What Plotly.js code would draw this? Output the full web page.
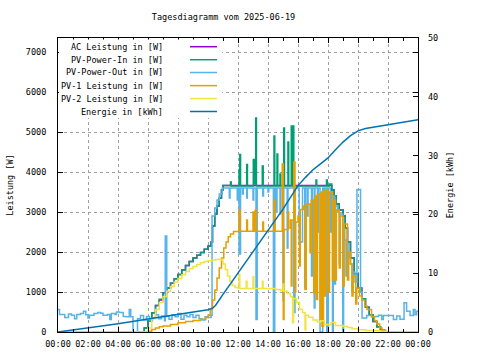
<!DOCTYPE html>
<html><head><meta charset="utf-8">
<script src="https://cdn.plot.ly/plotly-3.0.1.min.js"></script>
<style>html,body{margin:0;padding:0;background:#fff}#chart{width:480px;height:360px}</style>
</head><body><div id="chart"></div>
<script>
// ---------- data ----------
const chartTitle = 'Tagesdiagramm vom 2025-06-19';
const yTitle = 'Leistung [W]';
const y2Title = 'Energie [kWh]';
const xTickVals = [0, 2, 4, 6, 8, 10, 12, 14, 16, 18, 20, 22, 24];
const xTickText = ['00:00','02:00','04:00','06:00','08:00','10:00','12:00','14:00','16:00','18:00','20:00','22:00','00:00'];
const seriesNames = ['AC Leistung in [W]','PV-Power-In in [W]','PV-Power-Out in [W]','PV-1 Leistung in [W]','PV-2 Leistung in [W]','Energie in [kWh]'];

// AC Leistung (hours, W)
const acHours = [0,5.5,5.75,6.0,6.25,6.5,6.75,7.0,7.25,7.5,7.75,8.0,8.25,8.5,8.75,9.0,9.25,9.5,9.75,10.0,10.2,10.3,10.45,10.6,10.75,10.9,11.0,
  18.1,18.25,18.4,18.55,18.75,19.0,19.15,19.3,19.5,19.75,20.0,20.25,20.5,20.75,21.0,21.25,21.5,21.75,24];
const acWatts = [0,0,100,280,480,660,800,980,1100,1220,1330,1440,1550,1660,1760,1850,1920,1990,2070,2150,2250,2650,2950,3150,3350,3550,3660,
  3660,3550,3400,3200,3050,2900,2600,2250,1850,1450,1100,830,620,430,260,130,50,0,0];

// PV-Power-In
const pvInHours = [0,5.5,5.75,6.0,6.25,6.5,6.75,7.0,7.25,7.5,7.75,8.0,8.25,8.5,8.75,9.0,9.25,9.5,9.75,10.0,10.2,10.3,10.45,10.6,10.75,10.9,11.0,
  11.5,11.55,12.07,12.12,12.17,12.58,12.63,13.02,13.1,13.18,13.23,13.62,13.68,14.4,14.45,14.6,14.65,14.8,14.85,15.05,15.1,15.33,15.38,15.55,15.6,15.67,15.72,17.2,17.25,17.9,17.95,
  18.1,18.25,18.4,18.55,18.75,19.0,19.15,19.3,19.5,19.75,20.0,20.25,20.5,20.75,21.0,21.25,21.5,21.75,24];
const pvInWatts = [0,0,100,280,480,660,820,980,1100,1220,1330,1440,1550,1660,1760,1850,1920,1990,2070,2150,2250,2650,2950,3150,3350,3550,3660,
  3750,3650,4060,4440,3650,4190,3650,4310,3700,5350,3650,4150,3650,4900,3650,4450,3650,3950,3650,5100,3650,4750,3650,5150,3650,5150,3650,3800,3650,3800,3650,
  3700,3550,3400,3200,3050,2900,2600,2250,1850,1450,1100,830,620,430,260,130,50,0,0];

// PV-Power-Out
const pvOutHours = [0,0.1,0.45,0.7,0.9,1.1,1.25,1.5,1.7,1.85,2.0,2.1,2.4,2.65,2.85,3.0,3.3,3.45,3.55,3.8,3.9,4.1,4.35,4.55,4.75,4.85,5.0,5.3,5.5,5.7,5.9,6.1,6.3,6.5,6.7,6.9,7.1,7.15,7.25,7.4,7.6,7.8,8.0,8.2,8.4,8.6,8.8,9.0,9.2,9.4,9.6,9.8,10.0,10.2,
  10.27,10.45,10.6,10.75,10.95,
  11.42,11.47,11.95,12.0,12.07,12.17,12.3,12.35,12.58,12.62,13.0,13.05,13.2,13.28,13.65,13.7,14.0,14.05,14.36,14.45,14.55,14.6,14.8,14.85,15.0,15.05,15.28,15.33,15.72,15.8,
  16.08,16.3,16.45,16.5,16.62,16.67,16.9,16.95,17.08,17.13,17.3,17.35,17.47,17.65,17.75,17.8,17.92,18.02,18.15,18.2,
  18.3,18.35,18.45,18.5,18.65,18.75,18.82,18.98,19.04,19.12,19.2,19.27,19.4,19.5,19.6,19.67,19.8,19.93,20.17,20.27,
  20.58,20.91,21.36,21.58,21.69,22.36,22.58,22.8,23.07,23.24,23.47,23.69,23.8,23.91,24];
const pvOutWatts = [560,440,360,450,420,330,440,460,520,430,350,420,460,490,470,420,440,310,460,440,500,490,390,380,560,380,0,330,410,300,390,300,350,430,330,400,280,2400,400,320,430,380,460,320,420,380,440,360,420,330,300,380,360,420,
  2900,3100,3300,3450,3600,
  3350,3600,3300,3600,1950,3600,3450,3600,3350,3600,3300,3600,310,3600,3400,3600,3500,3600,0,3600,3000,3600,2950,3600,800,3600,2100,3600,490,3600,
  2250,3600,1100,3600,2900,3600,1400,3600,600,3600,2500,3600,0,3600,1000,3600,0,3600,2500,3500,
  0,3400,1200,3150,3000,1700,2950,0,2600,2300,1400,2200,1900,1700,1000,1500,1250,3560,1000,350,
  410,390,420,310,410,310,400,320,730,520,410,560,430,520,520];

// PV-1 Leistung
const pv1Hours = [0,5.8,6.0,6.25,6.5,6.75,7.0,7.5,8.0,8.5,9.0,9.5,9.85,10.0,10.15,10.3,10.45,10.6,10.75,10.9,11.05,11.2,11.35,11.5,11.7,
  12.07,12.15,12.58,12.63,13.0,13.08,13.15,13.22,13.65,13.7,14.4,14.47,14.95,15.02,15.07,15.33,15.38,15.5,15.55,15.6,15.72,15.8,15.85,16.0,16.1,16.15,16.35,16.47,16.55,16.8,16.88,
  17.05,17.15,17.22,17.3,17.47,17.55,17.6,17.7,17.8,17.85,18.0,18.1,18.3,18.38,18.5,18.56,18.75,18.82,19.0,19.08,19.3,19.38,19.5,19.6,19.67,19.85,19.92,20.1,20.25,20.45,20.6,20.9,21.1,21.25,21.45,21.6,21.85,24];
const pv1Watts = [0,0,20,60,100,130,150,190,230,260,290,320,360,420,560,800,1050,1350,1600,1850,2100,2250,2380,2450,2510,
  3050,2520,2800,2520,3000,2520,3050,2520,2750,2520,3300,2520,4200,310,2560,3000,2600,2800,1150,2800,4250,1000,2750,2900,1650,3060,3150,1060,3200,1980,3300,
  980,3400,810,3450,310,3500,145,3520,900,3550,1000,3500,1300,3300,1300,3050,1600,2900,1150,2700,1300,2000,1700,900,1400,700,1100,900,800,650,560,380,280,200,100,50,0,0];

// PV-2 Leistung
const pv2Hours = [0,5.9,6.0,6.25,6.5,6.75,7.0,7.25,7.5,7.75,8.0,8.25,8.5,8.75,9.0,9.25,9.5,9.75,10.0,10.25,10.5,10.75,10.9,11.0,11.15,11.3,11.45,11.6,11.8,12.0,
  12.07,12.12,12.55,12.6,13.0,13.05,13.62,13.67,14.5,14.85,15.0,15.05,15.3,15.5,15.64,15.7,15.9,16.1,16.3,16.47,16.52,16.7,17.0,17.3,17.5,17.75,18.0,18.2,18.5,19.0,19.3,19.6,20.0,20.5,21.0,21.5,21.9,24];
const pv2Watts = [0,0,100,330,560,740,890,1020,1140,1250,1340,1430,1510,1580,1640,1690,1730,1760,1780,1800,1810,1820,1800,1700,1560,1400,1270,1160,1110,1100,
  1440,1090,1270,1090,1380,1090,1270,1090,1060,1040,1200,1020,960,880,230,840,740,570,480,50,420,370,300,250,280,190,180,240,160,140,110,80,55,40,30,20,0,0];

// Energie (hours, kWh)
const energyHours = [0,2,4,6,8,10,10.33,10.5,11,11.5,12,12.5,13,13.5,14,14.5,15,15.5,16,16.5,17,17.5,18,18.5,19,19.5,20,20.5,21,22,23,24];
const energyKWh = [0,0.65,1.4,2.2,3.0,3.8,4.1,4.5,6.4,8.2,10.0,11.8,13.6,15.4,17.2,19.0,20.9,22.9,24.9,26.3,27.6,28.6,29.6,31.0,32.3,33.4,34.2,34.6,34.8,35.2,35.6,36.1];

// ---------- styling ----------
const colors = ['#9400d3','#009e73','#56b4e9','#e69f00','#f0e442','#0072b2'];
const FONT = {family:'"DejaVu Sans Mono", monospace', size:8.5, color:'#000'};
const W = 480, H = 360, L = 58, R = 62, T = 38, B = 28;
const PW = W - L - R, PH = H - T - B;
const px = x => (x - L) / PW;
const py = y => (H - B - y) / PH;

const series = [
  [acHours, acWatts], [pvInHours, pvInWatts], [pvOutHours, pvOutWatts],
  [pv1Hours, pv1Watts], [pv2Hours, pv2Watts]
];
const traces = series.map((s, i) => ({
  x: s[0], y: s[1], type: 'scatter', mode: 'lines', name: seriesNames[i],
  line: {color: colors[i], width: 1.5, shape: 'hv'}, showlegend: false, hoverinfo: 'skip'
}));
traces.push({
  x: energyHours, y: energyKWh, type: 'scatter', mode: 'lines', name: seriesNames[5], yaxis: 'y2',
  line: {color: colors[5], width: 1.5}, showlegend: false, hoverinfo: 'skip'
});

// legend (gnuplot style: right-aligned text then sample line, on an opaque white box)
const rowY = [46.7, 59.7, 72.5, 85.6, 98.6, 111.5];
const annotations = seriesNames.map((n, i) => ({
  text: n, xref: 'paper', yref: 'paper', x: px(165), y: py(rowY[i]),
  xanchor: 'right', yanchor: 'middle', showarrow: false, font: FONT
}));
const shapes = [{type:'rect', xref:'paper', yref:'paper', x0: px(59), x1: px(222), y0: py(118), y1: py(39.5),
  fillcolor:'#ffffff', line:{width:0}, layer:'above'}];
seriesNames.forEach((n, i) => shapes.push({type:'line', xref:'paper', yref:'paper',
  x0: px(190), x1: px(217), y0: py(rowY[i]), y1: py(rowY[i]), line:{color: colors[i], width: 1.5}, layer:'above'}));

const axisCommon = {
  ticks:'inside', ticklen:5, tickcolor:'#000', tickwidth:1, showline:true, linecolor:'#000', linewidth:1,
  mirror:'ticks', zeroline:false, tickfont: FONT, showgrid:true, gridcolor:'#a0a0a0', gridwidth:1, griddash:'3px,3px'
};

const layout = {
  width: W, height: H, margin: {l:L, r:R, t:T, b:B}, paper_bgcolor:'#fff', plot_bgcolor:'#fff',
  font: FONT, showlegend: false,
  title: {text: chartTitle, font: FONT, x: 223.5/W, xref:'container', xanchor:'center', y: 1 - 17/H, yref:'container', yanchor:'middle'},
  xaxis: Object.assign({}, axisCommon, {range:[0,24], tickmode:'array', tickvals: xTickVals, ticktext: xTickText,
    ticklabelstandoff: 4,
    minor:{tickmode:'linear', tick0:0, dtick:1, ticks:'inside', ticklen:3, tickcolor:'#000', showgrid:false}}),
  yaxis: Object.assign({}, axisCommon, {range:[0,7350], tickmode:'linear', tick0:0, dtick:1000, ticklabelstandoff: 9,
    title:{text: yTitle, font: FONT, standoff: 10}}),
  yaxis2: {range:[0,50], tickmode:'linear', tick0:0, dtick:10, overlaying:'y', side:'right', ticks:'inside', ticklen:5,
    tickcolor:'#000', showline:false, showgrid:false, zeroline:false, tickfont: FONT, ticklabelstandoff: 9,
    title:{text: y2Title, font: FONT, standoff: 9}},
  annotations: annotations, shapes: shapes
};

Plotly.newPlot('chart', traces, layout, {staticPlot:true, displayModeBar:false});
</script>
</body></html>
